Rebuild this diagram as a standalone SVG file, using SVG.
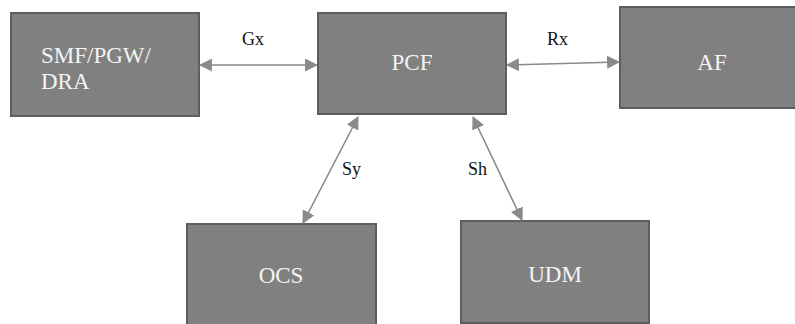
<svg xmlns="http://www.w3.org/2000/svg" width="795" height="324" viewBox="0 0 795 324">
<style>
.box{fill:#808080;stroke:#5e5e5e;stroke-width:2}
.nt{font-family:"Liberation Serif","DejaVu Serif",serif;font-size:23px;fill:#f4f4f4;text-anchor:middle}
.lbl{font-family:"Liberation Serif","DejaVu Serif",serif;font-size:18px;fill:#111}
.conn{stroke:#8a8a8a;stroke-width:1.6;fill:none;marker-start:url(#ah);marker-end:url(#ah)}
</style>
<defs>
<marker id="ah" viewBox="0 0 12 12" refX="11" refY="6" markerWidth="13" markerHeight="13" markerUnits="userSpaceOnUse" orient="auto-start-reverse">
<path d="M0,0 L12,6 L0,12 Z" fill="#8a8a8a"/>
</marker>
</defs>
<rect width="795" height="324" fill="#fff"/>
<g id="SMF">
<rect class="box" x="11" y="13" width="188" height="103"/>
<text class="nt" x="41" y="63" style="text-anchor:start">SMF/PGW/</text>
<text class="nt" x="41" y="89" style="text-anchor:start">DRA</text>
</g>
<g id="PCF">
<rect class="box" x="318" y="13" width="188" height="101"/>
<text class="nt" x="412" y="70">PCF</text>
</g>
<g id="AF">
<rect class="box" x="620" y="7" width="180" height="101"/>
<text class="nt" x="712" y="70">AF</text>
</g>
<g id="OCS">
<rect class="box" x="187" y="224" width="189" height="104"/>
<text class="nt" x="281" y="283">OCS</text>
</g>
<g id="UDM">
<rect class="box" x="461" y="221" width="188" height="102"/>
<text class="nt" x="555" y="282">UDM</text>
</g>
<g id="connectors">
<line class="conn" x1="200" y1="65" x2="317" y2="65"/>
<line class="conn" x1="507" y1="65" x2="619" y2="62"/>
<line class="conn" x1="358" y1="117" x2="303" y2="223"/>
<line class="conn" x1="473" y1="117" x2="522" y2="220"/>
<text class="lbl" x="242" y="45">Gx</text>
<text class="lbl" x="547" y="45">Rx</text>
<text class="lbl" x="342" y="175">Sy</text>
<text class="lbl" x="468" y="175">Sh</text>
</g>
</svg>
